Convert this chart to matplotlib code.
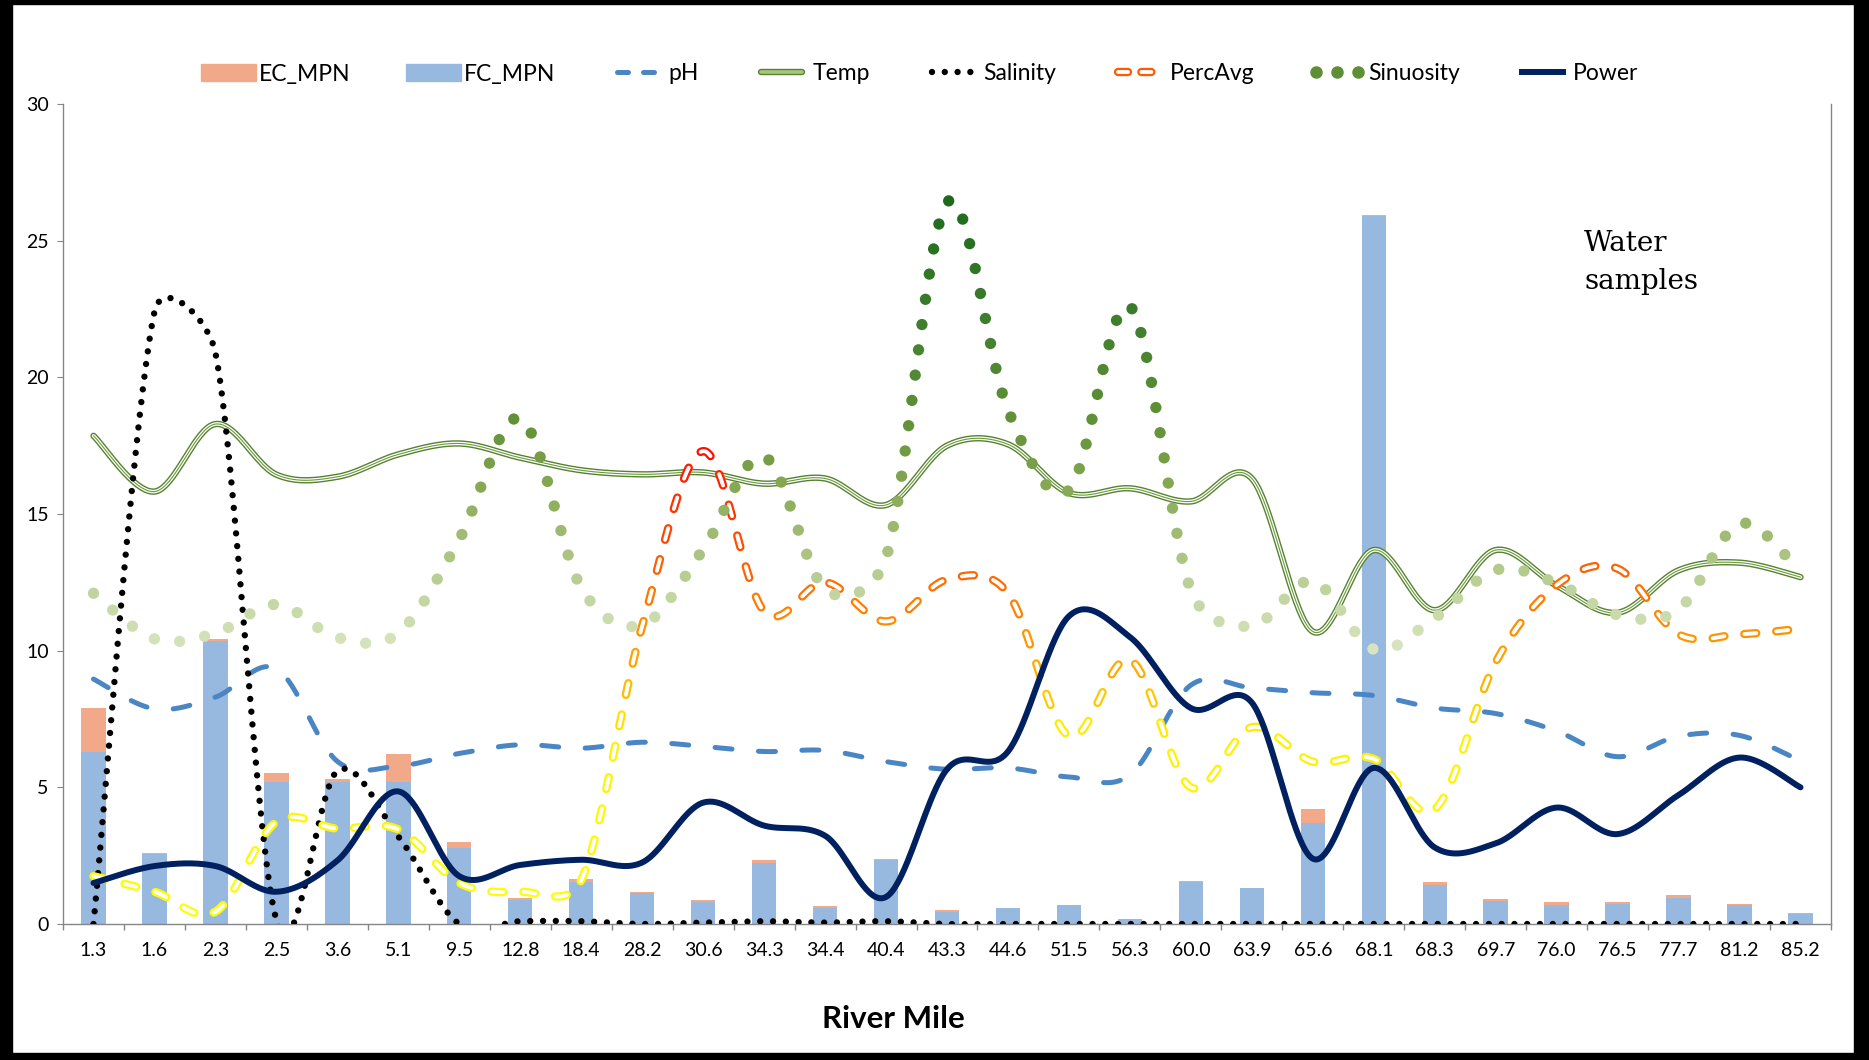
import numpy as np
import matplotlib
matplotlib.use('Agg')
import matplotlib.pyplot as plt
from matplotlib.lines import Line2D
from matplotlib.patches import Patch, Rectangle
from matplotlib.legend_handler import HandlerTuple
from matplotlib.colors import LinearSegmentedColormap

plt.rcParams['font.family'] = ['Lato', 'DejaVu Sans']

# ---- data ----
miles = ['1.3', '1.6', '2.3', '2.5', '3.6', '5.1', '9.5', '12.8', '18.4', '28.2',
         '30.6', '34.3', '34.4', '40.4', '43.3', '44.6', '51.5', '56.3', '60.0', '63.9',
         '65.6', '68.1', '68.3', '69.7', '76.0', '76.5', '77.7', '81.2', '85.2']

ec_mpn = [7.9, 2.6, 10.42, 5.53, 5.31, 6.22, 3.0, 0.96, 1.65, 1.18,
          0.88, 2.33, 0.67, 2.39, 0.50, 0.6, 0.7, 0.2, 1.57, 1.31,
          4.22, 25.95, 1.55, 0.90, 0.82, 0.82, 1.05, 0.73, 0.39]
fc_mpn = [6.29, 2.56, 10.37, 5.18, 5.18, 5.18, 2.78, 0.87, 1.55, 1.14,
          0.80, 2.24, 0.60, 2.35, 0.45, 0.58, 0.69, 0.18, 1.53, 1.31,
          3.68, 25.91, 1.44, 0.84, 0.71, 0.75, 0.95, 0.69, 0.35]
ph = [8.96, 7.87, 8.3, 9.34, 5.95, 5.78, 6.24, 6.56, 6.43, 6.65,
      6.5, 6.31, 6.35, 5.94, 5.66, 5.71, 5.38, 5.45, 8.74, 8.64,
      8.46, 8.36, 7.9, 7.7, 7.06, 6.12, 6.87, 6.9, 5.97]
temp = [17.86, 15.82, 18.29, 16.44, 16.36, 17.18, 17.58, 17.06, 16.6, 16.45,
        16.52, 16.11, 16.3, 15.33, 17.5, 17.55, 15.77, 15.94, 15.46, 16.3,
        10.7, 13.68, 11.48, 13.68, 12.38, 11.39, 12.94, 13.22, 12.69]
salinity = [0.0, 22.4, 20.9, 0.15, 5.6, 3.2, 0.0, 0.1, 0.1, 0.0,
            0.05, 0.1, 0.05, 0.1, 0.0, 0.0, 0.0, 0.0, 0.0, 0.0,
            0.0, 0.0, 0.0, 0.0, 0.0, 0.0, 0.0, 0.0, 0.0]
percavg = [1.75, 1.18, 0.45, 3.74, 3.49, 3.46, 1.5, 1.18, 1.6, 10.9,
           17.3, 11.44, 12.5, 11.07, 12.6, 12.1, 6.87, 9.67, 5.0, 7.2,
           5.94, 6.04, 4.2, 9.58, 12.4, 13.0, 10.6, 10.6, 10.8]
sinuosity = [12.1, 10.43, 10.64, 11.69, 10.48, 10.64, 14.07, 18.5, 12.3, 10.94,
             13.7, 17.1, 12.25, 13.4, 26.4, 18.8, 15.87, 22.6, 12.2, 10.9,
             12.55, 10.05, 11.2, 12.95, 12.47, 11.31, 11.5, 14.65, 12.88]
power = [1.5, 2.12, 2.12, 1.18, 2.32, 4.85, 1.75, 2.16, 2.35, 2.25,
         4.44, 3.6, 3.23, 0.99, 5.66, 6.31, 11.26, 10.5, 7.9, 8.1,
         2.39, 5.71, 2.8, 2.95, 4.26, 3.29, 4.72, 6.09, 5.0]

W, H, DPI = 1869, 1060, 100
fig = plt.figure(figsize=(W / DPI, H / DPI), dpi=DPI)
ax_box = [63 / W, 136 / H, 1768 / W, 820 / H]
ax = fig.add_axes(ax_box)
n = len(miles)
x = np.arange(n)
ax.set_xlim(-0.5, n - 0.5)
ax.set_ylim(0, 30)

# pixels per data unit (for Excel-like smoothing / dash placement)
sx = ax_box[2] * W / n
sy = ax_box[3] * H / 30.0


def smooth(vals, steps=40):
    P = np.column_stack([x * sx, np.asarray(vals, float) * sy])
    out = [P[0]]
    t = np.linspace(0, 1, steps + 1)[1:][:, None]
    for k in range(len(P) - 1):
        p0 = P[k - 1] if k > 0 else P[k]
        p1, p2 = P[k], P[k + 1]
        p3 = P[k + 2] if k + 2 < len(P) else P[k + 1]
        d12 = np.hypot(*(p2 - p1))

        def f(a, b):
            d = np.hypot(*(b - a))
            return 0.0 if d == 0 else min(1 / 6, 0.5 * d12 / d)
        b1 = p1 + (p2 - p0) * f(p0, p2)
        b2 = p2 - (p3 - p1) * f(p1, p3)
        seg = (1 - t) ** 3 * p1 + 3 * t * (1 - t) ** 2 * b1 + 3 * t ** 2 * (1 - t) * b2 + t ** 3 * p2
        out.extend(seg)
    out = np.array(out)
    return out[:, 0] / sx, out[:, 1] / sy


def arclen(xs, ys):
    d = np.hypot(np.diff(xs) * sx, np.diff(ys) * sy)
    return np.concatenate([[0], np.cumsum(d)])


# ---- bars ----
ax.bar(x, ec_mpn, width=0.4, color='#F2A98A', zorder=1)
ax.bar(x, fc_mpn, width=0.4, color='#97B9E0', zorder=1.1)

# ---- pH ----
xs, ys = smooth(ph)
ax.plot(xs, ys, color='#4A86C4', lw=3.6, ls=(0, (3.4, 5.3)), dash_capstyle='round', zorder=2)

# ---- Temp (triple line) ----
xs, ys = smooth(temp)
ax.plot(xs, ys, color='#55822F', lw=4.6, solid_capstyle='round', zorder=3)
ax.plot(xs, ys, color='white', lw=2.6, solid_capstyle='round', zorder=3.1)
ax.plot(xs, ys, color='#6B9A3B', lw=0.8, zorder=3.2)

# ---- Salinity ----
xs, ys = smooth(salinity)
ax.plot(xs, ys, color='black', lw=4.6, ls=(0, (0.001, 2.0)), dash_capstyle='round', zorder=4)

# ---- PercAvg (gradient dashes) ----
pcmap = LinearSegmentedColormap.from_list('pa', [(0, '#FFFF00'), (7 / 18, '#FFF000'), (9 / 18, '#FFB000'),
                                                  (11 / 18, '#FF8C00'), (13 / 18, '#FF6000'), (1, '#FF0000')])
xs, ys = smooth(percavg)
s = arclen(xs, ys)
on, period = 12.0, 32.0
for a0 in np.arange(0, s[-1], period):
    a1 = min(a0 + on, s[-1])
    m = (s > a0) & (s < a1)
    dx = np.concatenate([[np.interp(a0, s, xs)], xs[m], [np.interp(a1, s, xs)]])
    dy = np.concatenate([[np.interp(a0, s, ys)], ys[m], [np.interp(a1, s, ys)]])
    c = pcmap(np.clip(dy.mean() / 18, 0, 1))
    ax.plot(dx, dy, color=c, lw=6.0, solid_capstyle='round', zorder=5)
    ax.plot(dx, dy, color='white', lw=2.8, solid_capstyle='round', zorder=5.1)

# ---- Sinuosity (gradient dots) ----
scmap = LinearSegmentedColormap.from_list('si', [(0, '#D8E4BF'), (2 / 16.5, '#C2D5A0'), (4 / 16.5, '#A3BE78'),
                                                  (6 / 16.5, '#86A852'), (8 / 16.5, '#65943A'),
                                                  (12 / 16.5, '#3F7E2C'), (1, '#1D6A1D')])
xs, ys = smooth(sinuosity)
s = arclen(xs, ys)
ss = np.arange(0, s[-1] + 1, 25.5)
dxs = np.interp(ss, s, xs)
dys = np.interp(ss, s, ys)
ax.scatter(dxs, dys, s=66, c=scmap(np.clip((dys - 10) / 16.5, 0, 1)), linewidths=0, zorder=6)

# ---- Power ----
xs, ys = smooth(power)
ax.plot(xs, ys, color='#002060', lw=4.3, solid_capstyle='round', zorder=7)

# ---- axes styling ----
ax.spines['top'].set_visible(False)
for sp in ['left', 'bottom', 'right']:
    ax.spines[sp].set_color('#868686')
    ax.spines[sp].set_linewidth(1)
ax.set_yticks(np.arange(0, 31, 5))
ax.tick_params(axis='y', direction='out', length=4.3, color='#868686', labelsize=14, pad=6)
ax.tick_params(axis='y', which='both', right=False)
ax.set_xticks(x)
ax.set_xticklabels(miles)
ax.set_xticks(np.arange(-0.5, n, 1), minor=True)
ax.tick_params(axis='x', which='major', length=0, labelsize=14, pad=13)
ax.tick_params(axis='x', which='minor', length=4.3, color='#868686', width=1)

fig.text(0.478, 1 - 1019 / H, 'River Mile', fontsize=22.5, fontweight='bold', ha='center', va='center')
fig.text(1584 / W, 1 - 251 / H, 'Water', family='DejaVu Serif', fontsize=20, va='baseline')
fig.text(1584 / W, 1 - 289 / H, 'samples', family='DejaVu Serif', fontsize=20, va='baseline')

# ---- legend ----
h_ec = Patch(color='#F2A98A')
h_fc = Patch(color='#97B9E0')
h_ph = Line2D([], [], color='#4A86C4', lw=3.6, ls=(0, (2.2, 3.0)), dash_capstyle='round')
h_temp = (Line2D([], [], color='#55822F', lw=4.6, solid_capstyle='round'),
          Line2D([], [], color='#A9C47F', lw=2.6, solid_capstyle='round'))
h_sal = Line2D([], [], color='black', lw=4.6, ls=(0, (0.001, 2.0)), dash_capstyle='round')
h_pa = (Line2D([], [], color='#FF5A00', lw=6, ls=(0, (1.2, 1.6)), dash_capstyle='round'),
        Line2D([], [], color='white', lw=2.8, ls=(0, (1.2 * 6 / 2.8, 1.6 * 6 / 2.8)), dash_capstyle='round'))
h_sin = Line2D([], [], ls='', marker='o', color='#5E8F37', markersize=8)
h_pow = Line2D([], [], color='#002060', lw=4.3)
fig.legend([h_ec, h_fc, h_ph, h_temp, h_sal, h_pa, h_sin, h_pow],
           ['EC_MPN', 'FC_MPN', 'pH', 'Temp', 'Salinity', 'PercAvg', 'Sinuosity', 'Power'],
           loc='center', bbox_to_anchor=(0.492, 1 - 74 / H), ncol=8, frameon=False,
           fontsize=16.5, handlelength=2.4, handletextpad=0.15, columnspacing=2.4, numpoints=3,
           handler_map={tuple: HandlerTuple(ndivide=1)})

# ---- outer frame ----
for r in [(0, 0, 12 / W, 1), (1854 / W, 0, 15 / W, 1), (0, 0, 1, 7 / H), (0, 1 - 4 / H, 1, 4 / H)]:
    fig.add_artist(Rectangle(r[:2], r[2], r[3], transform=fig.transFigure, color='black', zorder=10))

fig.savefig('out.png', dpi=DPI)
